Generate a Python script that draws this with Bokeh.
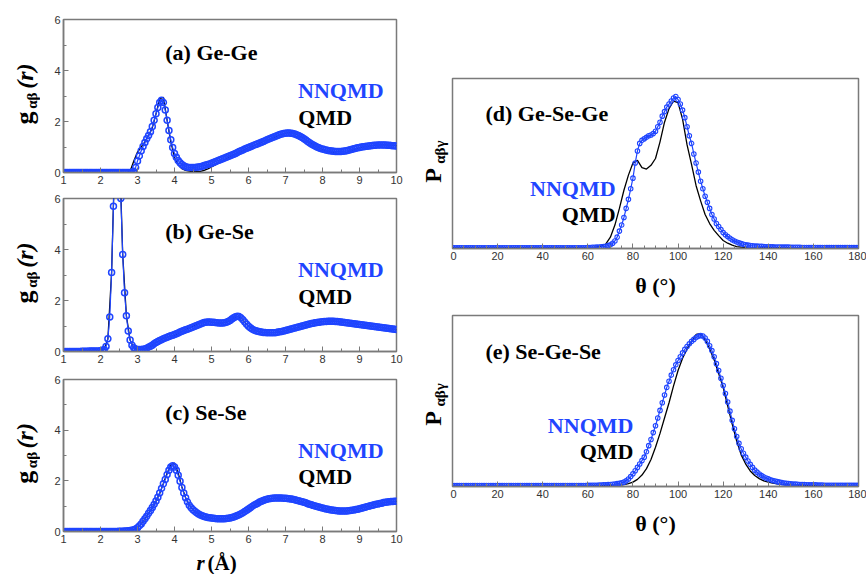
import numpy as np
from math import pi
from bokeh.plotting import figure
from bokeh.layouts import row, column
from bokeh.models import FixedTicker, Label
from bokeh.embed import file_html
from bokeh.resources import INLINE

BLUE = "#1f45ff"
SERIF = "Liberation Serif"
SANS = "Liberation Sans"
FRAME = "#7a7a7a"

# ---------------- tick labels ----------------
r_ticks = [1, 2, 3, 4, 5, 6, 7, 8, 9, 10]
r_minor = [1.5, 2.5, 3.5, 4.5, 5.5, 6.5, 7.5, 8.5, 9.5]
g_ticks = [0, 2, 4, 6]
g_minor = [1, 3, 5]
theta_ticks = [0, 20, 40, 60, 80, 100, 120, 140, 160, 180]
theta_minor = [5, 10, 15, 25, 30, 35, 45, 50, 55, 65, 70, 75, 85, 90, 95, 105, 110, 115,
               125, 130, 135, 145, 150, 155, 165, 170, 175]

# ---------------- sampling positions ----------------
r_nnqmd = [round(1.0 + 0.05 * i, 2) for i in range(181)]   # r = 1.00 ... 10.00
r_qmd = [round(1.0 + 0.1 * i, 1) for i in range(91)]       # r = 1.0 ... 10.0
theta_nnqmd = list(range(0, 181))                          # 0 ... 180 deg
theta_qmd = list(range(0, 181, 2))                         # 0 ... 180 deg

# ---------------- (a) Ge-Ge g(r) ----------------
gege_nnqmd = [
    0, 0, 0, 0, 0, 0, 0, 0, 0, 0,                                   # 1.00
    0, 0, 0, 0, 0, 0, 0, 0, 0, 0,                                   # 1.50
    0, 0, 0, 0, 0, 0, 0, 0, 0, 0,                                   # 2.00
    0, 0, 0, 0, 0, 0, 0, 0, 0.05, 0.2,                              # 2.50
    0.45, 0.65, 0.85, 1.02, 1.18, 1.32, 1.45, 1.6, 1.8, 2.05,       # 3.00
    2.3, 2.55, 2.75, 2.83, 2.75, 2.45, 2.05, 1.65, 1.28, 0.98,      # 3.50
    0.75, 0.6, 0.47, 0.38, 0.31, 0.26, 0.23, 0.21, 0.2, 0.2,        # 4.00
    0.2, 0.2, 0.21, 0.22, 0.23, 0.25, 0.27, 0.29, 0.31, 0.33,       # 4.50
    0.36, 0.39, 0.42, 0.45, 0.48, 0.51, 0.54, 0.57, 0.6, 0.63,      # 5.00
    0.66, 0.69, 0.72, 0.75, 0.78, 0.82, 0.85, 0.88, 0.92, 0.95,     # 5.50
    0.98, 1.01, 1.04, 1.07, 1.1, 1.13, 1.16, 1.19, 1.22, 1.25,      # 6.00
    1.28, 1.31, 1.34, 1.37, 1.4, 1.43, 1.46, 1.49, 1.51, 1.53,      # 6.50
    1.54, 1.55, 1.55, 1.54, 1.53, 1.51, 1.48, 1.45, 1.41, 1.37,     # 7.00
    1.32, 1.27, 1.22, 1.17, 1.12, 1.08, 1.04, 1.0, 0.97, 0.94,      # 7.50
    0.92, 0.9, 0.88, 0.86, 0.85, 0.84, 0.83, 0.82, 0.82, 0.82,      # 8.00
    0.82, 0.83, 0.84, 0.85, 0.87, 0.89, 0.91, 0.93, 0.95, 0.97,     # 8.50
    0.98, 1.0, 1.01, 1.02, 1.03, 1.04, 1.05, 1.06, 1.07, 1.07,      # 9.00
    1.08, 1.08, 1.08, 1.08, 1.08, 1.07, 1.07, 1.06, 1.05, 1.05,     # 9.50
    1.04]                                                           # 10.00
gege_qmd = [
    0, 0, 0, 0, 0, 0, 0, 0, 0, 0,                                   # 1.0
    0, 0, 0, 0, 0, 0, 0, 0, 0.05, 0.45,                             # 2.0
    0.8, 1.0, 1.2, 1.45, 1.75, 2.3, 2.9, 2.95, 2.05, 1.2,           # 3.0
    0.6, 0.3, 0.15, 0.08, 0.05, 0.03, 0.03, 0.04, 0.08, 0.14,       # 4.0
    0.22, 0.3, 0.38, 0.46, 0.55, 0.63, 0.7, 0.77, 0.84, 0.91,       # 5.0
    0.97, 1.03, 1.09, 1.15, 1.21, 1.27, 1.33, 1.39, 1.45, 1.5,      # 6.0
    1.54, 1.56, 1.54, 1.49, 1.42, 1.33, 1.23, 1.13, 1.04, 0.96,     # 7.0
    0.9, 0.85, 0.81, 0.78, 0.75, 0.74, 0.75, 0.8, 0.87, 0.93,       # 8.0
    0.97, 1.0, 1.02, 1.04, 1.06, 1.07, 1.08, 1.08, 1.07, 1.06,      # 9.0
    1.05]                                                           # 10.0

# ---------------- (b) Ge-Se g(r) ----------------
gese_nnqmd = [
    0, 0, 0, 0, 0, 0, 0, 0, 0, 0,                                   # 1.00
    0.01, 0.01, 0.01, 0.01, 0.02, 0.02, 0.02, 0.02, 0.02, 0.02,     # 1.50
    0.03, 0.05, 0.08, 0.2, 0.5, 1.35, 3.1, 5.7, 8.5, 9.6,           # 2.00
    8.6, 6.0, 3.8, 2.3, 1.4, 0.8, 0.45, 0.25, 0.15, 0.1,            # 2.50
    0.08, 0.08, 0.08, 0.09, 0.1, 0.13, 0.17, 0.21, 0.25, 0.3,       # 3.00
    0.35, 0.39, 0.43, 0.46, 0.5, 0.53, 0.56, 0.59, 0.62, 0.64,      # 3.50
    0.67, 0.7, 0.73, 0.76, 0.79, 0.82, 0.85, 0.87, 0.9, 0.93,       # 4.00
    0.96, 0.99, 1.02, 1.05, 1.08, 1.11, 1.14, 1.15, 1.16, 1.16,     # 4.50
    1.15, 1.15, 1.14, 1.13, 1.12, 1.12, 1.12, 1.13, 1.15, 1.18,     # 5.00
    1.22, 1.27, 1.32, 1.36, 1.38, 1.37, 1.32, 1.25, 1.16, 1.07,     # 5.50
    0.99, 0.93, 0.88, 0.84, 0.81, 0.79, 0.77, 0.76, 0.75, 0.75,     # 6.00
    0.74, 0.74, 0.74, 0.74, 0.74, 0.75, 0.76, 0.77, 0.78, 0.8,      # 6.50
    0.82, 0.84, 0.86, 0.88, 0.9, 0.92, 0.94, 0.96, 0.98, 1.0,       # 7.00
    1.02, 1.04, 1.06, 1.08, 1.1, 1.11, 1.13, 1.14, 1.15, 1.16,      # 7.50
    1.17, 1.18, 1.18, 1.19, 1.19, 1.19, 1.19, 1.18, 1.18, 1.17,     # 8.00
    1.16, 1.15, 1.14, 1.13, 1.12, 1.11, 1.1, 1.09, 1.08, 1.07,      # 8.50
    1.06, 1.05, 1.04, 1.03, 1.02, 1.01, 1.0, 0.99, 0.98, 0.97,      # 9.00
    0.96, 0.95, 0.94, 0.93, 0.92, 0.91, 0.9, 0.89, 0.88, 0.87,      # 9.50
    0.86]                                                           # 10.00
gese_qmd = [
    0, 0, 0, 0, 0, 0.01, 0.01, 0.02, 0.02, 0.02,                    # 1.0
    0.03, 0.08, 0.5, 3.1, 8.5, 8.6, 3.8, 1.4, 0.45, 0.15,           # 2.0
    0.08, 0.08, 0.1, 0.17, 0.25, 0.35, 0.43, 0.5, 0.56, 0.6,        # 3.0
    0.63, 0.72, 0.8, 0.87, 0.93, 0.99, 1.06, 1.14, 1.22, 1.2,       # 4.0
    1.15, 1.13, 1.11, 1.12, 1.15, 1.22, 1.32, 1.38, 1.32, 1.15,     # 5.0
    0.99, 0.88, 0.81, 0.77, 0.75, 0.74, 0.74, 0.74, 0.76, 0.78,     # 6.0
    0.82, 0.86, 0.9, 0.94, 0.98, 1.02, 1.06, 1.1, 1.13, 1.15,       # 7.0
    1.17, 1.18, 1.19, 1.19, 1.18, 1.16, 1.14, 1.12, 1.1, 1.08,      # 8.0
    1.06, 1.04, 1.02, 1.0, 0.98, 0.96, 0.94, 0.92, 0.9, 0.88,       # 9.0
    0.86]                                                           # 10.0

# ---------------- (c) Se-Se g(r) ----------------
sese_nnqmd = [
    0, 0, 0, 0, 0, 0, 0, 0, 0, 0,                                   # 1.00
    0, 0, 0, 0, 0, 0, 0, 0, 0, 0,                                   # 1.50
    0, 0, 0, 0, 0, 0, 0, 0, 0, 0,                                   # 2.00
    0.01, 0.01, 0.01, 0.02, 0.02, 0.03, 0.04, 0.05, 0.07, 0.1,      # 2.50
    0.15, 0.22, 0.3, 0.4, 0.5, 0.6, 0.72, 0.83, 0.95, 1.07,         # 3.00
    1.2, 1.35, 1.52, 1.7, 1.88, 2.05, 2.25, 2.42, 2.55, 2.6,        # 3.50
    2.55, 2.42, 2.22, 1.98, 1.74, 1.52, 1.33, 1.17, 1.04, 0.94,     # 4.00
    0.86, 0.8, 0.74, 0.69, 0.65, 0.62, 0.59, 0.57, 0.55, 0.54,      # 4.50
    0.53, 0.52, 0.51, 0.5, 0.5, 0.5, 0.5, 0.5, 0.51, 0.52,          # 5.00
    0.53, 0.55, 0.57, 0.6, 0.63, 0.66, 0.7, 0.74, 0.79, 0.84,       # 5.50
    0.89, 0.94, 0.99, 1.04, 1.08, 1.12, 1.16, 1.19, 1.22, 1.25,     # 6.00
    1.27, 1.29, 1.3, 1.31, 1.32, 1.32, 1.32, 1.32, 1.32, 1.31,      # 6.50
    1.31, 1.3, 1.29, 1.28, 1.27, 1.25, 1.23, 1.21, 1.19, 1.17,      # 7.00
    1.15, 1.13, 1.1, 1.08, 1.06, 1.03, 1.01, 0.99, 0.97, 0.95,      # 7.50
    0.93, 0.91, 0.89, 0.88, 0.86, 0.85, 0.84, 0.83, 0.82, 0.81,     # 8.00
    0.81, 0.81, 0.81, 0.81, 0.82, 0.83, 0.84, 0.85, 0.87, 0.88,     # 8.50
    0.9, 0.92, 0.94, 0.96, 0.98, 1.0, 1.02, 1.04, 1.06, 1.08,       # 9.00
    1.09, 1.11, 1.12, 1.14, 1.15, 1.16, 1.17, 1.18, 1.18, 1.19,     # 9.50
    1.19]                                                           # 10.00
sese_qmd = [
    0, 0, 0, 0, 0, 0, 0, 0, 0, 0,                                   # 1.0
    0, 0, 0, 0, 0, 0.01, 0.01, 0.02, 0.04, 0.07,                    # 2.0
    0.15, 0.3, 0.5, 0.72, 0.95, 1.2, 1.5, 1.9, 2.3, 2.62,           # 3.0
    2.7, 2.3, 1.76, 1.34, 1.04, 0.86, 0.74, 0.65, 0.59, 0.55,       # 4.0
    0.53, 0.51, 0.5, 0.5, 0.51, 0.53, 0.57, 0.63, 0.7, 0.79,        # 5.0
    0.89, 0.99, 1.08, 1.16, 1.22, 1.27, 1.3, 1.32, 1.32, 1.32,      # 6.0
    1.31, 1.29, 1.27, 1.23, 1.19, 1.15, 1.1, 1.06, 1.01, 0.97,      # 7.0
    0.93, 0.89, 0.86, 0.84, 0.82, 0.81, 0.81, 0.82, 0.84, 0.87,     # 8.0
    0.9, 0.94, 0.98, 1.02, 1.06, 1.09, 1.12, 1.15, 1.17, 1.18,      # 9.0
    1.19]                                                           # 10.0

# ---------------- (d) Ge-Se-Ge bond angle distribution ----------------
gesege_nnqmd = [
    0, 0, 0, 0, 0, 0, 0, 0, 0, 0,                                                   # 0
    0, 0, 0, 0, 0, 0, 0, 0, 0, 0,                                                   # 10
    0, 0, 0, 0, 0, 0, 0, 0, 0, 0,                                                   # 20
    0, 0, 0, 0, 0, 0, 0, 0, 0, 0,                                                   # 30
    0, 0, 0, 0, 0, 0, 0, 0, 0, 0,                                                   # 40
    0, 0, 0, 0, 0, 0, 0, 0, 0, 0,                                                   # 50
    0.002, 0.002, 0.003, 0.003, 0.004, 0.005, 0.006, 0.008, 0.01, 0.014,            # 60
    0.02, 0.03, 0.045, 0.07, 0.11, 0.15, 0.2, 0.26, 0.32, 0.39,                     # 70
    0.46, 0.56, 0.64, 0.69, 0.71, 0.72, 0.73, 0.74, 0.745, 0.755,                   # 80
    0.77, 0.8, 0.83, 0.87, 0.9, 0.93, 0.95, 0.97, 0.99, 1.0,                        # 90
    0.98, 0.95, 0.91, 0.86, 0.8, 0.74, 0.69, 0.62, 0.56, 0.5,                       # 100
    0.44, 0.39, 0.34, 0.3, 0.26, 0.22, 0.19, 0.16, 0.14, 0.12,                      # 110
    0.1, 0.086, 0.074, 0.063, 0.053, 0.045, 0.038, 0.032, 0.027, 0.023,             # 120
    0.02, 0.017, 0.015, 0.013, 0.012, 0.011, 0.01, 0.009, 0.008, 0.007,             # 130
    0.007, 0.006, 0.006, 0.005, 0.005, 0.005, 0.004, 0.004, 0.004, 0.004,           # 140
    0.003, 0.003, 0.003, 0.003, 0.003, 0.002, 0.002, 0.002, 0.002, 0.002,           # 150
    0.002, 0.002, 0.002, 0.002, 0.002, 0.001, 0.001, 0.001, 0.001, 0.001,           # 160
    0.001, 0.001, 0.001, 0.001, 0.001, 0.001, 0.001, 0.001, 0.001, 0.001,           # 170
    0.001]                                                                          # 180
gesege_qmd = [
    0, 0, 0, 0, 0, 0, 0, 0, 0, 0,                                   # 0-18
    0, 0, 0, 0, 0, 0, 0, 0, 0, 0,                                   # 20-38
    0, 0, 0, 0, 0, 0, 0, 0, 0, 0,                                   # 40-58
    0.002, 0.003, 0.005, 0.01, 0.025, 0.07, 0.15, 0.26, 0.38, 0.48, # 60-78
    0.56, 0.578, 0.53, 0.52, 0.545, 0.59, 0.7, 0.83, 0.92, 0.97,    # 80-98
    0.96, 0.85, 0.68, 0.55, 0.41, 0.31, 0.22, 0.16, 0.115, 0.08,    # 100-118
    0.048, 0.03, 0.017, 0.008, 0.004, 0.002, 0, 0, 0, 0,            # 120-138
    0, 0, 0, 0, 0, 0, 0, 0, 0, 0,                                   # 140-158
    0, 0, 0, 0, 0, 0, 0, 0, 0, 0,                                   # 160-178
    0]                                                              # 180

# ---------------- (e) Se-Ge-Se bond angle distribution ----------------
segese_nnqmd = [
    0, 0, 0, 0, 0, 0, 0, 0, 0, 0,                                                   # 0
    0, 0, 0, 0, 0, 0, 0, 0, 0, 0,                                                   # 10
    0, 0, 0, 0, 0, 0, 0, 0, 0, 0,                                                   # 20
    0, 0, 0, 0, 0, 0, 0, 0, 0, 0,                                                   # 30
    0, 0, 0, 0, 0, 0, 0, 0, 0, 0,                                                   # 40
    0, 0, 0, 0, 0, 0, 0, 0, 0, 0,                                                   # 50
    0.001, 0.001, 0.002, 0.002, 0.002, 0.003, 0.003, 0.004, 0.005, 0.006,           # 60
    0.007, 0.008, 0.01, 0.012, 0.014, 0.017, 0.022, 0.03, 0.042, 0.058,             # 70
    0.076, 0.096, 0.118, 0.14, 0.162, 0.185, 0.22, 0.26, 0.3, 0.345,                # 80
    0.39, 0.44, 0.49, 0.54, 0.59, 0.64, 0.68, 0.72, 0.755, 0.787,                   # 90
    0.815, 0.84, 0.865, 0.888, 0.907, 0.924, 0.94, 0.953, 0.965, 0.973,             # 100
    0.978, 0.975, 0.962, 0.94, 0.912, 0.88, 0.84, 0.795, 0.75, 0.7,                 # 110
    0.652, 0.6, 0.545, 0.485, 0.425, 0.37, 0.32, 0.275, 0.24, 0.21,                 # 120
    0.185, 0.16, 0.138, 0.118, 0.1, 0.087, 0.075, 0.065, 0.056, 0.049,              # 130
    0.043, 0.038, 0.033, 0.029, 0.025, 0.022, 0.019, 0.016, 0.014, 0.012,           # 140
    0.011, 0.01, 0.009, 0.008, 0.007, 0.006, 0.006, 0.005, 0.005, 0.004,            # 150
    0.004, 0.004, 0.003, 0.003, 0.003, 0.002, 0.002, 0.002, 0.002, 0.001,           # 160
    0.001, 0.001, 0.001, 0.001, 0.001, 0.001, 0.001, 0.001, 0.001, 0.001,           # 170
    0.001]                                                                          # 180
segese_qmd = [
    0, 0, 0, 0, 0, 0, 0, 0, 0, 0,                                   # 0-18
    0, 0, 0, 0, 0, 0, 0, 0, 0, 0,                                   # 20-38
    0, 0, 0, 0, 0, 0, 0, 0, 0, 0,                                   # 40-58
    0, 0, 0, 0, 0, 0, 0.002, 0.003, 0.006, 0.012,                   # 60-78
    0.022, 0.04, 0.068, 0.11, 0.17, 0.25, 0.34, 0.44, 0.54, 0.65,   # 80-98
    0.75, 0.83, 0.89, 0.94, 0.985, 0.99, 0.95, 0.89, 0.82, 0.73,    # 100-118
    0.64, 0.52, 0.4, 0.29, 0.2, 0.14, 0.095, 0.065, 0.045, 0.03,    # 120-138
    0.022, 0.015, 0.011, 0.008, 0.005, 0.003, 0.002, 0.001, 0, 0,  # 140-158
    0, 0, 0, 0, 0, 0, 0, 0, 0, 0,                                   # 160-178
    0]                                                              # 180

for arr in (gege_nnqmd, gese_nnqmd, sese_nnqmd):
    assert len(arr) == len(r_nnqmd), len(arr)
for arr in (gege_qmd, gese_qmd, sese_qmd):
    assert len(arr) == len(r_qmd), len(arr)
for arr in (gesege_nnqmd, segese_nnqmd):
    assert len(arr) == len(theta_nnqmd), len(arr)
for arr in (gesege_qmd, segese_qmd):
    assert len(arr) == len(theta_qmd), len(arr)


def base_fig(width, height, xr, yr, left, right, top, bottom):
    p = figure(width=width, height=height, x_range=xr, y_range=yr,
               output_backend="svg", toolbar_location=None, title=None,
               min_border_left=left, min_border_right=right,
               min_border_top=top, min_border_bottom=bottom)
    p.xgrid.visible = False
    p.ygrid.visible = False
    p.background_fill_color = "white"
    p.border_fill_color = "white"
    return p


def text_fig(width, height, yr, top, bottom):
    # an axis-free strip that carries the axis titles
    p = base_fig(width, height, (0, width), yr, 0, 0, top, bottom)
    p.axis.visible = False
    p.outline_line_color = None
    return p


def style_axes(p, xticks, xminor, yticks=None, yminor=None):
    p.outline_line_color = FRAME
    p.outline_line_width = 1.5
    axes = [p.xaxis[0]]
    p.xaxis.ticker = FixedTicker(ticks=xticks, minor_ticks=xminor)
    if yticks is not None:
        axes.append(p.yaxis[0])
        p.yaxis.ticker = FixedTicker(ticks=yticks, minor_ticks=yminor)
    else:
        p.yaxis.visible = False
    for ax in axes:
        ax.axis_line_color = FRAME
        ax.axis_line_width = 1.5
        ax.major_tick_in = 5
        ax.major_tick_out = 0
        ax.minor_tick_in = 3
        ax.minor_tick_out = 0
        ax.major_tick_line_color = FRAME
        ax.minor_tick_line_color = FRAME
        ax.major_label_text_font = SANS
        ax.major_label_text_font_size = "11px"
        ax.major_label_text_color = "#333333"
        ax.major_label_standoff = 3


def txt(p, x, y, text, size="22px", color="black", align="left", style="bold",
        angle=0.0, baseline="middle"):
    p.add_layout(Label(x=x, y=y, text=text, text_font=SERIF, text_font_size=size,
                       text_font_style=style, text_color=color, text_align=align,
                       text_baseline=baseline, angle=angle))


def gr_panel(height, top, bottom, title, nn, qm):
    p = base_fig(380, height, (1, 10), (0, 6), 23, 24, top, bottom)
    style_axes(p, r_ticks, r_minor, g_ticks, g_minor)
    p.line(r_qmd, qm, line_color="black", line_width=1.3)
    p.line(r_nnqmd, nn, line_color=BLUE, line_width=1.2)
    p.scatter(r_nnqmd, nn, marker="circle", size=6, line_color=BLUE,
              fill_color=None, line_width=1.5)
    txt(p, 3.75, 4.7, title)
    txt(p, 9.65, 3.2, "NNQMD", color=BLUE, align="right")
    txt(p, 8.8, 2.17, "QMD", align="right")
    # y-axis title g_{alpha beta}(r) in its own strip
    s = text_fig(40, height, (0, 6), top, bottom)
    txt(s, 24, 1.88, "g", size="26px", angle=pi / 2)
    txt(s, 31, 2.5, "αβ", size="15px", angle=pi / 2)
    txt(s, 24, 3.28, "(r)", size="24px", style="bold italic", angle=pi / 2)
    return row(s, p)


def adf_panel(height, top, bottom, yr, title, title_y, nn, qm, lab_x, ylab):
    p = base_fig(416, height, (0, 180), yr, 2, 8, top, bottom)
    style_axes(p, theta_ticks, theta_minor)
    p.xaxis.axis_label = "θ (°)"
    p.xaxis.axis_label_text_font = SERIF
    p.xaxis.axis_label_text_font_size = "22px"
    p.xaxis.axis_label_text_font_style = "bold"
    p.xaxis.axis_label_text_color = "black"
    p.xaxis.axis_label_standoff = 10
    p.line(theta_qmd, qm, line_color="black", line_width=1.3)
    p.line(theta_nnqmd, nn, line_color=BLUE, line_width=1.2)
    p.scatter(theta_nnqmd, nn, marker="circle", size=4.5, line_color=BLUE,
              fill_color=None, line_width=1.1)
    txt(p, 14.6, title_y, title)
    txt(p, lab_x, 0.39, "NNQMD", color=BLUE, align="right")
    txt(p, lab_x, 0.22, "QMD", align="right")
    # y-axis title P_{alpha beta gamma} in its own strip
    s = text_fig(30, height, yr, top, bottom)
    txt(s, 12, ylab, "P", size="24px", angle=pi / 2)
    txt(s, 19, ylab + 0.125, "αβγ", size="15px", angle=pi / 2)
    return row(s, p)


ra = gr_panel(190, 19, 18, "(a) Ge-Ge", gege_nnqmd, gege_qmd)
rb = gr_panel(179, 8, 18, "(b) Ge-Se", gese_nnqmd, gese_qmd)
rc = gr_panel(180, 10, 18, "(c) Se-Se", sese_nnqmd, sese_qmd)

# x-axis title of the g(r) column: r (Å)
xl = text_fig(420, 25, (0, 25), 0, 0)
txt(xl, 196, 12, "r", style="bold italic", size="21px")
txt(xl, 207, 12, "(Å)", size="21px")

rd = adf_panel(300, 78, 52, (-0.005, 1.119), "(d) Ge-Se-Ge", 0.89,
               gesege_nnqmd, gesege_qmd, 72.3, 0.43)
re = adf_panel(274, 15, 88, (-0.0065, 1.109), "(e) Se-Ge-Se", 0.874,
               segese_nnqmd, segese_qmd, 80.2, 0.39)

layout = row(column(ra, rb, rc, xl), column(rd, re))

open("out.html", "w").write(file_html(layout, INLINE))
